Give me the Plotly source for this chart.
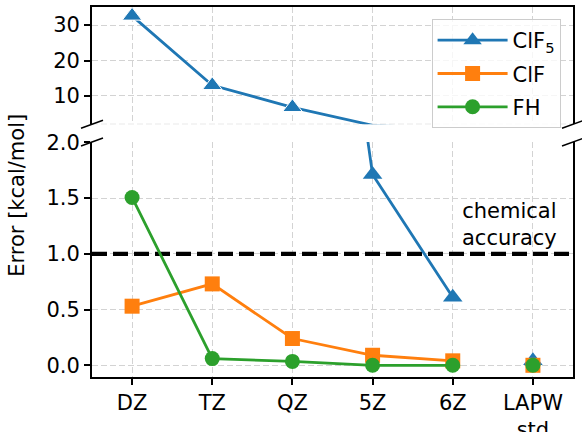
import plotly.graph_objects as go

# ---- data ----
categories = ["DZ", "TZ", "QZ", "5Z", "6Z", "LAPW<br>std"]
clf5 = [32.6, 13.0, 6.8, 1.71, 0.61, 0.04]
clf = [0.53, 0.73, 0.24, 0.09, 0.04, 0.0]
fh = [1.505, 0.06, 0.035, 0.0, 0.0, 0.0]
series_names = ["ClF<sub>5</sub>", "ClF", "FH"]
chem_acc = 1.0
chem_label = "chemical<br>accuracy"
ytitle = "Error [kcal/mol]"

colors = ["#1f77b4", "#ff7f0e", "#2ca02c"]
symbols = ["triangle-up", "square", "circle"]
sizes = [17, 15, 15]
FONT = "DejaVu Sans"
FS = 21
TOP_MIN, TOP_MAX = 2, 35.1
BOT_MIN, BOT_MAX = -0.105, 2.002

xpos = list(range(len(categories)))
n_basis = len(categories) - 1  # basis-set points connected by lines; last is a separate reference

fig = go.Figure()
# chemical accuracy line (drawn first so data sit above it)
fig.add_trace(go.Scatter(x=[-0.5, len(categories) - 0.5], y=[chem_acc, chem_acc],
                         xaxis="x", yaxis="y", mode="lines", showlegend=False,
                         hoverinfo="skip",
                         line=dict(color="black", width=4.2, dash="15px,6px")))

allvals = [clf5, clf, fh]
for name, vals, c, s, sz in zip(series_names, allvals, colors, symbols, sizes):
    fig.add_trace(go.Scatter(x=xpos[:n_basis], y=vals[:n_basis], xaxis="x", yaxis="y",
                             mode="lines+markers", name=name, legendgroup=name,
                             line=dict(color=c, width=2.8),
                             marker=dict(symbol=s, size=sz, color=c, opacity=1)))
    fig.add_trace(go.Scatter(x=xpos[n_basis:], y=vals[n_basis:], xaxis="x", yaxis="y",
                             mode="markers", name=name, legendgroup=name, showlegend=False,
                             marker=dict(symbol=s, size=sz, color=c, opacity=1)))
# upper (broken) panel: only ClF5 reaches it
top_sizes = [sizes[0] if v >= TOP_MIN else 0 for v in clf5[:n_basis]]
fig.add_trace(go.Scatter(x=xpos[:n_basis], y=clf5[:n_basis], xaxis="x2", yaxis="y2",
                         mode="lines+markers", name=series_names[0], legendgroup=series_names[0],
                         showlegend=False,
                         line=dict(color=colors[0], width=2.8),
                         marker=dict(symbol=symbols[0], size=top_sizes, color=colors[0],
                                     opacity=1)))

grid = dict(showgrid=True, gridcolor="#d3d3d3", gridwidth=1.3, griddash="6px,3px")
bot_top = 0.635
top_bot = 0.683

fig.update_layout(
    width=582, height=432,
    margin=dict(l=92, r=9, t=7, b=55, autoexpand=False),
    paper_bgcolor="white", plot_bgcolor="white",
    font=dict(family=FONT, size=FS, color="black"),
    xaxis=dict(domain=[0, 1], anchor="y", range=[-0.5, 5.5],
               tickvals=xpos, ticktext=categories,
               showline=True, linecolor="black", linewidth=1.8, mirror=False,
               ticks="outside", ticklen=6, tickwidth=1.5, tickcolor="black",
               tickfont=dict(size=FS), zeroline=False, automargin=False, **grid),
    yaxis=dict(domain=[0, bot_top], anchor="x", range=[BOT_MIN, BOT_MAX],
               tickvals=[0, 0.5, 1.0, 1.5, 2.0],
               ticktext=["0.0", "0.5", "1.0", "1.5", "2.0"],
               showline=True, linecolor="black", linewidth=1.8, mirror=True,
               ticks="outside", ticklen=6, tickwidth=1.5, tickcolor="black",
               tickfont=dict(size=FS), zeroline=False, automargin=False, **grid),
    xaxis2=dict(domain=[0, 1], anchor="y2", range=[-0.5, 5.5],
                matches="x", side="top", showticklabels=False, tickvals=xpos,
                showline=True, linecolor="black", linewidth=1.8, mirror=False,
                ticks="", zeroline=False, automargin=False, **grid),
    yaxis2=dict(domain=[top_bot, 1], anchor="x2", range=[TOP_MIN, TOP_MAX],
                tickvals=[10, 20, 30],
                showline=True, linecolor="black", linewidth=1.8, mirror=True,
                ticks="outside", ticklen=6, tickwidth=1.5, tickcolor="black",
                tickfont=dict(size=FS), zeroline=False, automargin=False, **grid),
    legend=dict(x=0.706, y=0.9675, xanchor="left", yanchor="top",
                bgcolor="rgba(255,255,255,0.8)", bordercolor="#cccccc", borderwidth=1,
                font=dict(size=FS), tracegroupgap=3, itemwidth=70),
    showlegend=True,
)

# grid line at bottom of the top panel
fig.add_shape(type="line", xref="paper", yref="y2", x0=0, x1=1, y0=TOP_MIN, y1=TOP_MIN,
              line=dict(color="#d3d3d3", width=1.3, dash="6px,3px"), layer="below")

# break marks
dx, dy = 11 / 481, 4 / 370
for xb in (0, 1):
    for yb in (top_bot, bot_top):
        fig.add_shape(type="line", xref="paper", yref="paper",
                      x0=xb - dx, x1=xb + dx, y0=yb - dy, y1=yb + dy,
                      line=dict(color="black", width=1.5))

fig.add_annotation(x=4.71, y=1.264, xref="x", yref="y", text=chem_label,
                   showarrow=False, font=dict(size=FS), align="center",
                   xanchor="center", yanchor="middle")
fig.add_annotation(x=-0.1559, y=0.49, xref="paper", yref="paper", text=ytitle,
                   textangle=-90, showarrow=False, font=dict(size=FS),
                   xanchor="center", yanchor="middle")

fig.write_html("out.html", post_script="document.body.style.margin='0';",
               config={"displayModeBar": False})
